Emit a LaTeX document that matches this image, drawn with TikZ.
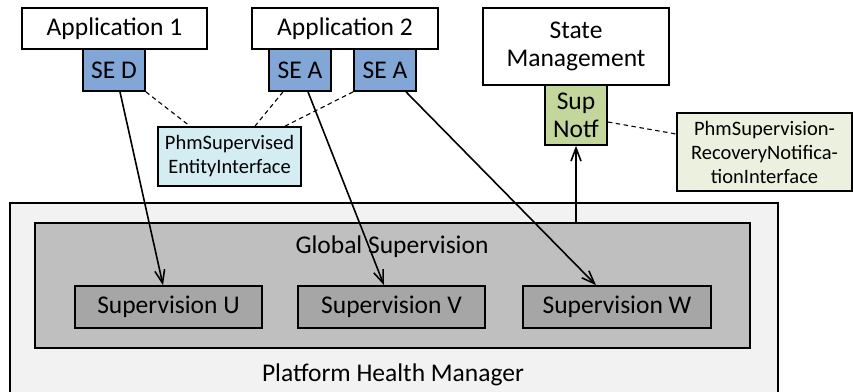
\documentclass[tikz,border=0pt]{standalone}
\usepackage{fontspec}
\setmainfont{Carlito}
\usetikzlibrary{arrows.meta}
\definecolor{seblue}{RGB}{130,166,214}
\definecolor{supgreen}{RGB}{195,214,155}
\definecolor{ifcyan}{RGB}{212,237,242}
\definecolor{ifgreen}{RGB}{235,241,222}
\definecolor{outergray}{RGB}{242,242,242}
\definecolor{globalgray}{RGB}{191,191,191}
\definecolor{supgray}{RGB}{166,166,166}
\tikzset{
  box/.style={draw=black, line width=1.7pt, rectangle, inner sep=0pt, align=center},
  bigtext/.style={font=\fontsize{25.5}{28}\selectfont},
  smalltext/.style={font=\fontsize{20.5}{24}\selectfont},
  arr/.style={line width=1.6pt, -{Straight Barb[length=13pt,width=10pt,line width=1.6pt]}},
  dashline/.style={line width=1.1pt, dash pattern=on 4.5pt off 3.5pt},
}
\begin{document}
\begin{tikzpicture}[x=1pt,y=-1pt]
\useasboundingbox (0,0) rectangle (853,391);
% platform
\node[box, fill=outergray, minimum width=768pt, minimum height=200pt] (phm) at (394,303) {};
\node[bigtext] (phmlabel) at (393,375) {Platform Health Manager};
\node[box, fill=globalgray, minimum width=715pt, minimum height=125pt] (global) at (392.5,285.5) {};
\node[bigtext] (globallabel) at (392,247) {Global Supervision};
\node[box, fill=supgray, bigtext, minimum width=187pt, minimum height=42pt] (supU) at (168.5,307) {Supervision U};
\node[box, fill=supgray, bigtext, minimum width=187pt, minimum height=42pt] (supV) at (391.5,307) {Supervision V};
\node[box, fill=supgray, bigtext, minimum width=188pt, minimum height=42pt] (supW) at (617,307) {Supervision W};
% applications
\node[box, fill=white, bigtext, minimum width=185pt, minimum height=41pt] (app1) at (114.5,28.5) {Application 1};
\node[box, fill=white, bigtext, minimum width=186pt, minimum height=41pt] (app2) at (345,28.5) {Application 2};
\node[box, fill=seblue, bigtext, minimum width=62pt, minimum height=42pt] (sed) at (114,70) {SE D};
\node[box, fill=seblue, bigtext, minimum width=62pt, minimum height=42pt] (sea1) at (300,70) {SE A};
\node[box, fill=seblue, bigtext, minimum width=62pt, minimum height=42pt] (sea2) at (385,70) {SE A};
\node[box, fill=ifcyan, smalltext, minimum width=143pt, minimum height=59pt] (phmse) at (229.5,156.5) {PhmSupervised\\EntityInterface};
% state management
\node[box, fill=white, bigtext, minimum width=186pt, minimum height=77pt] (sm) at (576,46.5) {State\\Management};
\node[box, fill=supgreen, bigtext, minimum width=62pt, minimum height=60pt] (supn) at (576,115) {Sup\\Notf};
\node[box, fill=ifgreen, smalltext, minimum width=175pt, minimum height=78pt] (phmsr) at (764.5,152) {PhmSupervision-\\RecoveryNotifica-\\tionInterface};
% dashed links
\draw[dashline] (sed.south east) -- ([xshift=-39.5pt]phmse.north);
\draw[dashline] ([xshift=-17pt]sea1.south) -- ([xshift=25.5pt]phmse.north);
\draw[dashline] (sea2.south west) -- ([xshift=55.5pt]phmse.north);
\draw[dashline] ([yshift=-7pt]supn.east) -- ([yshift=18pt]phmsr.west);
% arrows
\draw[arr] ([xshift=6pt]sed.south) -- ([xshift=-5.5pt]supU.north);
\draw[arr] ([xshift=8pt]sea1.south) -- ([xshift=-7.5pt]supV.north);
\draw[arr] ([xshift=21pt]sea2.south) -- ([xshift=-21pt]supW.north);
\draw[arr] (supn.south |- global.north) -- (supn.south);
\end{tikzpicture}
\end{document}
